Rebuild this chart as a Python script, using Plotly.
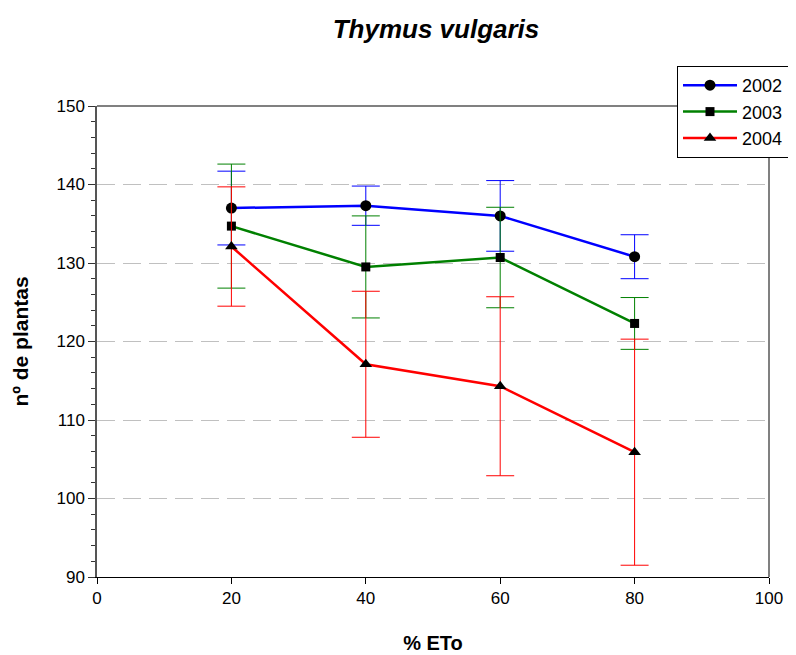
import plotly.graph_objects as go

eto = [20, 40, 60, 80]
y2002 = [137.0, 137.3, 136.0, 130.8]
e2002 = [4.7, 2.5, 4.5, 2.8]
y2003 = [134.7, 129.5, 130.7, 122.3]
e2003 = [7.9, 6.5, 6.4, 3.3]
y2004 = [132.1, 117.1, 114.3, 105.9]
e2004 = [7.6, 9.3, 11.4, 14.4]

series = [
    ("2002", y2002, e2002, "#0000FF", "circle", 11),
    ("2003", y2003, e2003, "#008000", "square", 9),
    ("2004", y2004, e2004, "#FF0000", "triangle-up", 11),
]

FONT = "Liberation Sans"

fig = go.Figure()
for name, ys, es, col, sym, sz in series:
    fig.add_trace(go.Scatter(
        x=eto, y=ys, name=name, mode="lines+markers",
        line=dict(color=col, width=2.5),
        marker=dict(color="black", symbol=sym, size=sz),
        error_y=dict(type="data", array=es, visible=True, color=col, thickness=1, width=14),
    ))

fig.update_layout(
    width=796, height=655,
    margin=dict(l=89, r=35, t=98, b=86),
    plot_bgcolor="white", paper_bgcolor="white",
    font=dict(family=FONT, size=17, color="black"),
    title=dict(text="<b><i>Thymus vulgaris</i></b>", x=428/796, xanchor="center",
               y=1 - 21/655, yanchor="middle", font=dict(size=26, family=FONT)),
    showlegend=True,
    legend=dict(x=(677 - 97) / 672, y=1 + (106 - 66) / 471, xanchor="left", yanchor="top",
                bgcolor="white", bordercolor="black", borderwidth=1,
                font=dict(size=18, family=FONT), itemwidth=54, tracegroupgap=0),
    xaxis=dict(range=[0, 100], tickvals=[0, 20, 40, 60, 80, 100], showgrid=False,
               showline=True, linecolor="black", linewidth=1, ticks="outside",
               ticklen=6, tickcolor="black", zeroline=False,
               tickfont=dict(size=17, family=FONT),
               title=dict(text="<b>% ETo</b>", font=dict(size=20, family=FONT), standoff=28)),
    yaxis=dict(range=[90, 150], tickvals=[90, 100, 110, 120, 130, 140, 150],
               showgrid=True, gridcolor="#c0c0c0", griddash="18px,8px", gridwidth=1,
               showline=True, linecolor="#555555", linewidth=1.5, ticks="outside",
               ticklen=7, tickcolor="#333333", zeroline=False,
               tickfont=dict(size=17, family=FONT),
               minor=dict(dtick=2, ticks="outside", ticklen=4, tickcolor="#333333", showgrid=False),
               title=dict(text="<b>nº de plantas</b>", font=dict(size=21, family=FONT), standoff=22)),
)

fig.add_shape(type="line", xref="x domain", yref="y domain", x0=0, x1=1, y0=1, y1=1,
              line=dict(color="#808080", width=2), layer="above")
fig.add_shape(type="line", xref="x domain", yref="y domain", x0=1, x1=1, y0=0, y1=1,
              line=dict(color="#808080", width=2), layer="above")

fig.write_html("out.html")
